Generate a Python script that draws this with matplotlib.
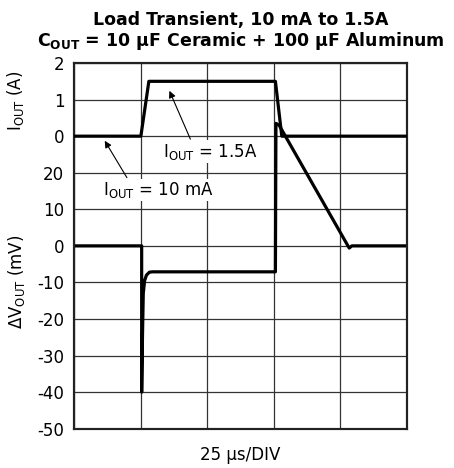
import matplotlib.pyplot as plt

plt.rcParams['font.family'] = 'DejaVu Sans'
plt.rcParams['mathtext.fontset'] = 'dejavusans'

# time in us (25 us/div, 5 divisions)
t_iout = [0, 25.1, 28.1, 75.6, 78.0, 125]
iout = [0, 0, 1.5, 1.5, 0, 0]

t_vout = [0, 25.4, 25.4, 25.7, 26.0, 26.5, 27.2, 28.3, 29.5, 75.6, 75.8, 77.0, 103.3, 104.3, 125]
dvout = [0, 0, -40, -25, -13, -9.5, -8, -7.2, -7.1, -7.1, 33.5, 33, -0.6, 0, 0]

v_ticks = [-50, -40, -30, -20, -10, 0, 10, 20]
i_ticks = [0, 1, 2]

fig = plt.figure(figsize=(4.54, 4.68), dpi=100)
ax = fig.add_axes([0.163, 0.084, 0.7335, 0.7813])
ax2 = ax.twinx()

# voltage on the lower 7 divisions, current on the upper 3
ax.set_xlim(0, 125)
ax.set_ylim(-50, 50)
ax2.set_ylim(-8, 2)

ax.set_xticks([0, 25, 50, 75, 100, 125])
ax.set_xticklabels([])
ax.set_yticks(v_ticks)
ax.set_yticklabels([str(v) for v in v_ticks])
ax.set_yticks([30, 40, 50], minor=True)
ax.grid(True, which='both', color='#333333', linewidth=0.9)
ax.tick_params(length=0, labelsize=12, pad=7, which='both')

ax2.yaxis.tick_left()
ax2.set_yticks(i_ticks)
ax2.set_yticklabels([str(i) for i in i_ticks])
ax2.tick_params(length=0, labelsize=12, pad=7)

for a in (ax, ax2):
    for s in a.spines.values():
        s.set_linewidth(1.5)
        s.set_color('#222222')

ax.plot(t_vout, dvout, color='black', linewidth=2.3, zorder=5)
ax2.plot(t_iout, iout, color='black', linewidth=2.3, zorder=5)

# annotations
ax2.annotate('', xy=(35.4, 1.31), xytext=(44.1, -0.15),
             arrowprops=dict(arrowstyle='-|>', color='black', lw=0.8, mutation_scale=10))
ax2.annotate('', xy=(11.0, -0.06), xytext=(20.4, -1.2),
             arrowprops=dict(arrowstyle='-|>', color='black', lw=0.8, mutation_scale=10))
ax2.text(33.3, -0.56, '$\\mathrm{I_{OUT}}$ = 1.5A', fontsize=12, va='baseline',
         bbox=dict(facecolor='white', edgecolor='none', pad=1))
ax2.text(10.8, -1.61, '$\\mathrm{I_{OUT}}$ = 10 mA', fontsize=12, va='baseline',
         bbox=dict(facecolor='white', edgecolor='none', pad=1))

fig.text(0.034, 0.784, '$\\mathrm{I_{OUT}}$ (A)', rotation=90, ha='center', va='center', fontsize=12)
fig.text(0.036, 0.397, '$\\Delta\\mathrm{V_{OUT}}$ (mV)', rotation=90, ha='center', va='center', fontsize=12)
fig.text(0.53, 0.017, '25 µs/DIV', ha='center', va='baseline', fontsize=12)

fig.text(0.53, 0.9466, 'Load Transient, 10 mA to 1.5A', ha='center', va='baseline',
         fontsize=12.5, fontweight='bold')
fig.text(0.53, 0.9024, '$\\mathbf{C_{OUT}}$ = 10 µF Ceramic + 100 µF Aluminum', ha='center', va='baseline',
         fontsize=12.5, fontweight='bold')

fig.savefig('out.png', dpi=100)
